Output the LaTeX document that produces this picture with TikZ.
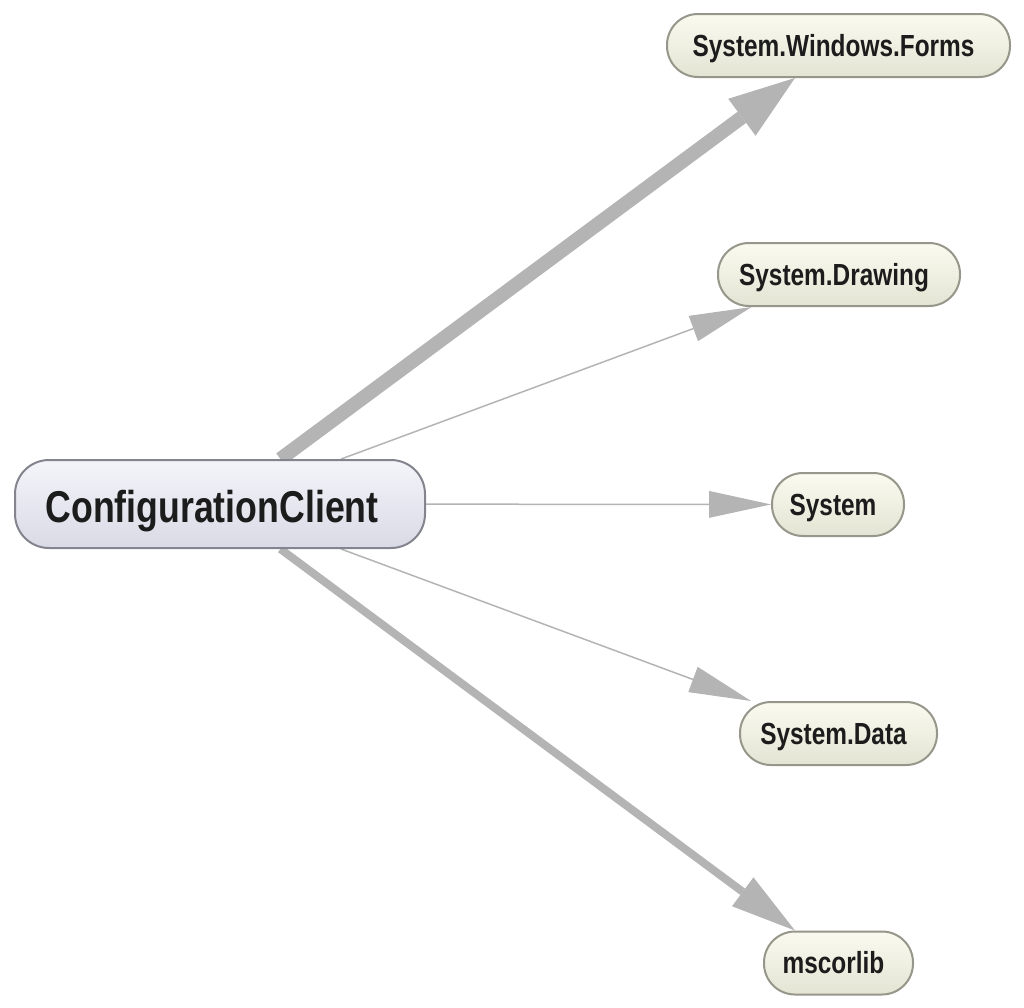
\documentclass[tikz,border=0pt]{standalone}
\usepackage{fontspec}
\newfontfamily\nodefont[FakeStretch=0.8]{Liberation Sans}
\usetikzlibrary{arrows.meta}
\pgfdeclarelayer{background}
\pgfsetlayers{background,main}
\definecolor{edgegray}{HTML}{B4B4B4}
\definecolor{maintop}{HTML}{F4F4FA}
\definecolor{mainbot}{HTML}{DADAE6}
\definecolor{mainborder}{HTML}{84848F}
\definecolor{deptop}{HTML}{FAFAF0}
\definecolor{depbot}{HTML}{E4E4D4}
\definecolor{depborder}{HTML}{96968A}
\definecolor{txt}{HTML}{1C1C1C}
\tikzset{
  mainnode/.style={rectangle, rounded corners=34pt, minimum width=410pt, minimum height=88pt,
    top color=maintop, bottom color=mainbot, draw=mainborder, line width=2pt,
    font=\nodefont\bfseries\fontsize{44.6}{50}\selectfont, text=txt, inner sep=0pt,
    text height=45pt, text depth=9pt,
    execute at end node={\hspace{16pt}}},
  depnode/.style={rectangle, rounded corners=31pt, minimum height=63pt,
    top color=deptop, bottom color=depbot, draw=depborder, line width=2pt,
    font=\nodefont\bfseries\fontsize{30.5}{34}\selectfont, text=txt, inner sep=0pt,
    text height=27.5pt, text depth=6.5pt,
    execute at end node={\hspace{10pt}}},
  thinedge/.style={draw=edgegray, line width=1.5pt,
    -{Triangle[length=62pt, width=27pt, line width=0pt]}},
  midedge/.style={draw=edgegray, line width=8pt,
    -{Triangle[length=65pt, width=36pt, line width=0pt]}},
  thickedge/.style={draw=edgegray, line width=14pt,
    -{Triangle[length=66pt, width=46pt, line width=0pt]}},
}
\begin{document}
\begin{tikzpicture}[x=1pt,y=-1pt]
\useasboundingbox (0,0) rectangle (1024,1007);
\node[mainnode] (cc) at (220,504) {ConfigurationClient};
\node[depnode, minimum width=343pt] (swf) at (838.5,45.5) {System.Windows.Forms};
\node[depnode, minimum width=242pt] (sd) at (839,274.5) {System.Drawing};
\node[depnode, minimum width=132pt] (sys) at (838,504.5) {System};
\node[depnode, minimum width=197pt] (sdata) at (838.5,733.5) {System.Data};
\node[depnode, minimum width=149pt] (ms) at (838.5,963) {mscorlib};
\begin{pgfonlayer}{background}
\draw[thickedge] (cc) -- (swf);
\draw[thinedge] (cc) -- (sd);
\draw[thinedge] (cc) -- (sys);
\draw[thinedge] (cc) -- (sdata);
\draw[midedge] (cc) -- (ms);
\end{pgfonlayer}
\end{tikzpicture}
\end{document}
